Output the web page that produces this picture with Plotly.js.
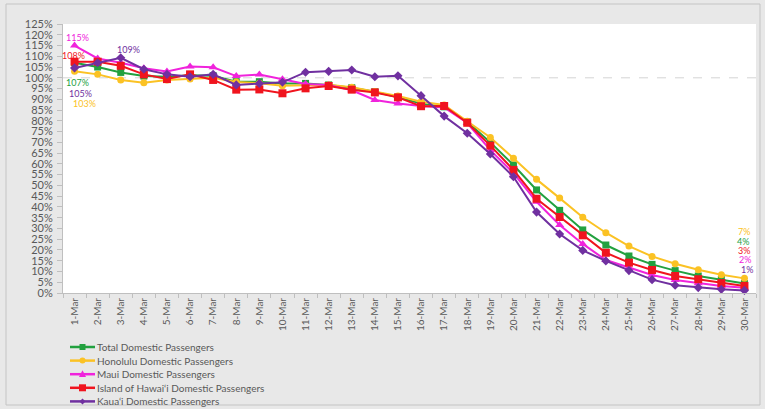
<!DOCTYPE html>
<html>
<head>
<meta charset="utf-8">
<script src="https://cdn.plot.ly/plotly-3.0.1.min.js"></script>
<style>html,body{margin:0;padding:0;background:#fff;}#chart{width:765px;height:409px;}</style>
</head>
<body>
<div id="chart"></div>
<script>
var categories = ['1-Mar','2-Mar','3-Mar','4-Mar','5-Mar','6-Mar','7-Mar','8-Mar','9-Mar','10-Mar',
  '11-Mar','12-Mar','13-Mar','14-Mar','15-Mar','16-Mar','17-Mar','18-Mar','19-Mar','20-Mar',
  '21-Mar','22-Mar','23-Mar','24-Mar','25-Mar','26-Mar','27-Mar','28-Mar','29-Mar','30-Mar'];

var totalDomestic = [107, 105, 102.5, 100.8, 100.5, 101.2, 101, 98.2, 98.2, 97.4,
  97.4, 96.7, 95.4, 93.5, 91, 88, 86.5, 79.5, 70, 59.5,
  47.9, 38.4, 29.3, 22.3, 17.2, 13.3, 10.4, 7.9, 6.3, 4.4];
var honoluluDomestic = [103, 101.6, 99, 97.7, 99, 99.5, 100, 98, 97.5, 96.3,
  96.5, 96.8, 95.6, 93.6, 91.5, 88.9, 87.4, 79.8, 72.3, 62.6,
  52.8, 44.1, 35.2, 28, 21.8, 17, 13.6, 10.8, 8.5, 6.8];
var mauiDomestic = [115, 109, 107, 104.4, 102.9, 105.2, 104.9, 100.8, 101.5, 99.3,
  97.1, 96.7, 94.2, 89.7, 88.1, 86.9, 86.2, 79, 66.4, 55.7,
  42.4, 31.6, 22.8, 15.3, 11.9, 8.4, 6, 4.5, 3.3, 2.4];
var hawaiiDomestic = [107.5, 107.5, 105.6, 101.6, 99.4, 101.6, 99, 94.5, 94.6, 92.8,
  95.1, 96.2, 94.5, 93.2, 90.9, 86.8, 86.9, 79.1, 68.5, 57.2,
  43.8, 35.3, 26.8, 18.7, 14.1, 10.7, 7.9, 6.4, 4.6, 3.3];
var kauaiDomestic = [104.6, 107, 109.3, 104, 101.6, 100.5, 101.6, 96.7, 97.4, 97.9,
  102.6, 103, 103.6, 100.5, 100.9, 91.7, 82.2, 74.2, 64.6, 54,
  37.6, 27.4, 19.8, 14.9, 10.4, 6.2, 3.6, 2.5, 1.7, 1.2];

var seriesNames = ['Total Domestic Passengers', 'Honolulu Domestic Passengers', 'Maui Domestic Passengers',
  'Island of Hawai\u2018i Domestic Passengers', 'Kaua\u2018i Domestic Passengers'];
var yTickValues = [0,5,10,15,20,25,30,35,40,45,50,55,60,65,70,75,80,85,90,95,100,105,110,115,120,125];

var seriesData = [totalDomestic, honoluluDomestic, mauiDomestic, hawaiiDomestic, kauaiDomestic];
var colors = ['#22a13f', '#fbc224', '#f023dc', '#f0141e', '#7030a0'];
var symbols = ['square', 'circle', 'triangle-up', 'square', 'diamond'];
var sizes = [7, 7, 8, 8, 7];
var FONT = 'Lato, "Liberation Sans", sans-serif';

var traces = seriesData.map(function (vals, i) {
  return {
    type: 'scatter', mode: 'lines+markers', name: seriesNames[i],
    x: categories, y: vals,
    line: {color: colors[i], width: 2},
    marker: {symbol: symbols[i], size: sizes[i], color: colors[i]},
    showlegend: false, cliponaxis: false
  };
});

// plot geometry (pixels)
var L = 63, R = 9, T = 24, B = 116, W = 765, H = 409;
var pw = W - L - R, ph = H - T - B;
function px2x(p) { return (p - L) / pw; }
function py2y(p) { return (H - B - p) / ph; }

// data labels: series index, point index, pixel shifts
var labelSpecs = [
  {s: 0, i: 0, xs: 3, ys: -20},
  {s: 1, i: 0, xs: 10, ys: -32},
  {s: 2, i: 0, xs: 3, ys: 8},
  {s: 3, i: 0, xs: -1, ys: 6},
  {s: 4, i: 0, xs: 6, ys: -26},
  {s: 4, i: 2, xs: 8, ys: 8},
  {s: 1, i: 29, xs: 0, ys: 46.5},
  {s: 0, i: 29, xs: -1, ys: 42},
  {s: 3, i: 29, xs: 0, ys: 35},
  {s: 2, i: 29, xs: 1, ys: 28},
  {s: 4, i: 29, xs: 3, ys: 21}
];
var annotations = labelSpecs.map(function (a) {
  return {
    x: categories[a.i], y: seriesData[a.s][a.i], xref: 'x', yref: 'y',
    text: Math.round(seriesData[a.s][a.i]) + '%', showarrow: false,
    xshift: a.xs, yshift: a.ys, borderpad: 0,
    font: {family: FONT, size: 9, color: colors[a.s]}
  };
});

var shapes = [];
// outer frame
shapes.push({type: 'rect', xref: 'paper', yref: 'paper', x0: px2x(6), x1: px2x(760), y0: py2y(405), y1: py2y(4),
  line: {color: '#c4c4c4', width: 1}, fillcolor: 'rgba(0,0,0,0)', layer: 'below'});
// 100% reference dashed line
shapes.push({type: 'line', xref: 'paper', yref: 'y', x0: 0, x1: 1, y0: 100, y1: 100,
  line: {color: '#d4d4d4', width: 1, dash: 'dash'}, layer: 'below'});

// custom legend
var legendTop = 347, legendStep = 13.6;
var markerPaths = {
  'square': function (s) { return 'M' + (-s) + ',' + (-s) + ' L' + s + ',' + (-s) + ' L' + s + ',' + s + ' L' + (-s) + ',' + s + ' Z'; },
  'triangle-up': function (s) { return 'M' + (-s) + ',' + (-s * 0.8) + ' L' + s + ',' + (-s * 0.8) + ' L0,' + (s * 1.1) + ' Z'; },
  'diamond': function (s) { return 'M0,' + (-s) + ' L' + s + ',0 L0,' + s + ' L' + (-s) + ',0 Z'; }
};
seriesNames.forEach(function (nm, i) {
  var yp = legendTop + legendStep * i;
  var yy = py2y(yp);
  shapes.push({type: 'line', xref: 'paper', yref: 'paper', x0: px2x(70), x1: px2x(95), y0: yy, y1: yy,
    line: {color: colors[i], width: 2.5}});
  var half = (sizes[i] - 1) / 2;
  if (symbols[i] === 'circle') {
    shapes.push({type: 'circle', xref: 'paper', yref: 'paper', xsizemode: 'pixel', ysizemode: 'pixel',
      xanchor: px2x(82.5), yanchor: yy, x0: -half, x1: half, y0: -half, y1: half,
      fillcolor: colors[i], line: {width: 0}});
  } else {
    shapes.push({type: 'path', xref: 'paper', yref: 'paper', xsizemode: 'pixel', ysizemode: 'pixel',
      xanchor: px2x(82.5), yanchor: yy, path: markerPaths[symbols[i]](half),
      fillcolor: colors[i], line: {width: 0}});
  }
  annotations.push({xref: 'paper', yref: 'paper', x: px2x(96), y: yy, xanchor: 'left', yanchor: 'middle',
    text: nm, showarrow: false, borderpad: 0, font: {family: FONT, size: 10, color: '#595959'}});
});

var layout = {
  width: W, height: H,
  margin: {l: L, r: R, t: T, b: B, pad: 0},
  paper_bgcolor: '#e8e8e8', plot_bgcolor: '#ffffff',
  font: {family: FONT, color: '#595959'},
  showlegend: false,
  xaxis: {
    type: 'category', range: [-0.5, categories.length - 0.5], tickangle: -90,
    ticks: 'outside', tickson: 'boundaries', ticklen: 4, tickcolor: '#bfbfbf',
    showline: true, linecolor: '#bfbfbf', linewidth: 1, showgrid: false, zeroline: false,
    tickfont: {family: FONT, size: 10, color: '#595959'}
  },
  yaxis: {
    range: [0, 125], tickmode: 'array', tickvals: yTickValues,
    ticktext: yTickValues.map(function (v) { return v + '%'; }),
    ticks: 'outside', ticklen: 5, tickcolor: '#bfbfbf',
    showline: true, linecolor: '#bfbfbf', linewidth: 1, showgrid: false, zeroline: false,
    ticklabelstandoff: 2,
    tickfont: {family: FONT, size: 11, color: '#595959'}
  },
  shapes: shapes,
  annotations: annotations
};

Plotly.newPlot('chart', traces, layout, {displayModeBar: false, staticPlot: true});
</script>
</body>
</html>
